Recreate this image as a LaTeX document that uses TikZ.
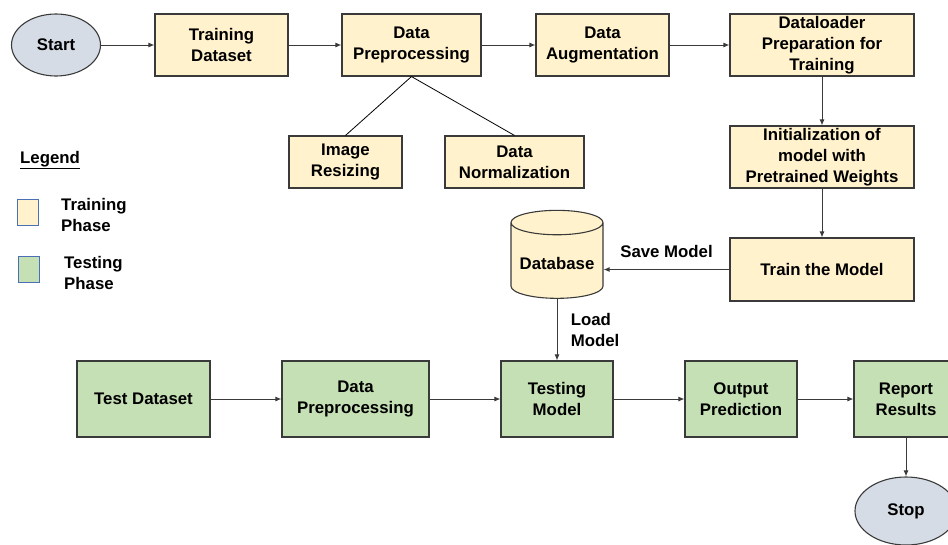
\documentclass[tikz,border=0pt]{standalone}
\usepackage{fontspec}
\setmainfont{Liberation Sans}
\usetikzlibrary{shapes.geometric, arrows.meta, positioning}
\definecolor{trainfill}{HTML}{FFF2CC}
\definecolor{testfill}{HTML}{C5E0B4}
\definecolor{termfill}{HTML}{D6DCE5}
\definecolor{edgegray}{HTML}{3A3A3A}
\definecolor{keyblue}{HTML}{4A6FB5}
\tikzstyle{styletrain} = [rectangle, minimum width=133pt, minimum height=62pt, inner sep=2pt, align=center, draw=edgegray, line width=1.1pt, fill=trainfill]
\tikzstyle{styletest} = [rectangle, minimum width=112pt, minimum height=76pt, inner sep=2pt, align=center, draw=edgegray, line width=1.1pt, fill=testfill]
\tikzstyle{styleterm} = [ellipse, minimum width=89pt, minimum height=62pt, draw=edgegray, line width=1.1pt, fill=termfill]
\tikzstyle{styledb} = [cylinder, shape border rotate=90, aspect=0.3, minimum width=92pt, minimum height=88pt, draw=edgegray, line width=1.1pt, fill=trainfill]
\tikzstyle{stylekey} = [rectangle, minimum width=21pt, minimum height=26pt, draw=keyblue, line width=0.8pt]
\tikzstyle{arrow} = [draw=edgegray, line width=1pt, -{Latex[length=6pt,width=5pt]}]
\tikzstyle{plainline} = [draw=black, line width=0.8pt]

\begin{document}
\begin{tikzpicture}[x=1pt, y=-1pt, node distance=100pt, font=\bfseries\fontsize{16.8}{21}\selectfont]
\useasboundingbox (0,0) rectangle (948,544);
\clip (0,0) rectangle (948,544);

% training phase
\node (start) [styleterm] at (56,45) {Start};
\node (tr1) [styletrain, right of=start, xshift=65.5] {Training\\Dataset};
\node (tr2) [styletrain, minimum width=139pt, right of=tr1, xshift=90] {Data\\Preprocessing};
\node (tr3) [styletrain, right of=tr2, xshift=91] {Data\\Augmentation};
\node (tr4) [styletrain, minimum width=184pt, right of=tr3, xshift=119.5] {Dataloader\\Preparation for\\Training};
\node (tr5) [styletrain, minimum width=184pt, below of=tr4, yshift=-12] {Initialization of\\model with\\Pretrained Weights};
\node (tr6) [styletrain, minimum width=184pt, minimum height=63pt, below of=tr5, yshift=-12.5] {Train the Model};

\node (sub1) [styletrain, minimum width=113pt, minimum height=52pt] at (345.5,162) {Image\\Resizing};
\node (sub2) [styletrain, minimum width=139pt, minimum height=52pt, right of=sub1, xshift=69] {Data\\Normalization};

\node (db) [styledb] at (557,263) {Database};

% testing phase
\node (te1) [styletest, minimum width=133pt] at (143.5,399) {Test Dataset};
\node (te2) [styletest, minimum width=147pt, right of=te1, xshift=112] {Data\\Preprocessing};
\node (te3) [styletest, right of=te2, xshift=101.5] {Testing\\Model};
\node (te4) [styletest, right of=te3, xshift=84] {Output\\Prediction};
\node (te5) [styletest, minimum width=104pt, right of=te4, xshift=65] {Report\\Results};
\node (stop) [styleterm, minimum width=102pt, minimum height=68pt, below of=te5, yshift=-12] {Stop};

% legend
\node (leg) [anchor=west, inner sep=0pt] at (20,160) {\underline{Legend}};
\node (key1) [stylekey, fill=trainfill] at (28,212) {};
\node (key1t) [anchor=west, align=left, inner sep=0pt] at (61,214.5) {Training\\Phase};
\node (key2) [stylekey, fill=testfill] at (28.5,269) {};
\node (key2t) [anchor=west, align=left, inner sep=0pt] at (64,273) {Testing\\Phase};

% connectors
\draw [arrow] (start) -- (tr1);
\draw [arrow] (tr1) -- (tr2);
\draw [arrow] (tr2) -- (tr3);
\draw [arrow] (tr3) -- (tr4);
\draw [arrow] (tr4) -- (tr5);
\draw [arrow] (tr5) -- (tr6);
\draw [plainline] (tr2.south) -- (sub1.north);
\draw [plainline] (tr2.south) -- (sub2.north);
\draw [arrow] (tr6.west) -- (tr6.west -| db.east) node[midway, above, yshift=8] {Save Model};
\draw [arrow] (db) -- (te3) node[midway, right, align=left, xshift=10] {Load\\Model};

\draw [arrow] (te1) -- (te2);
\draw [arrow] (te2) -- (te3);
\draw [arrow] (te3) -- (te4);
\draw [arrow] (te4) -- (te5);
\draw [arrow] (te5) -- (stop);

\end{tikzpicture}
\end{document}
